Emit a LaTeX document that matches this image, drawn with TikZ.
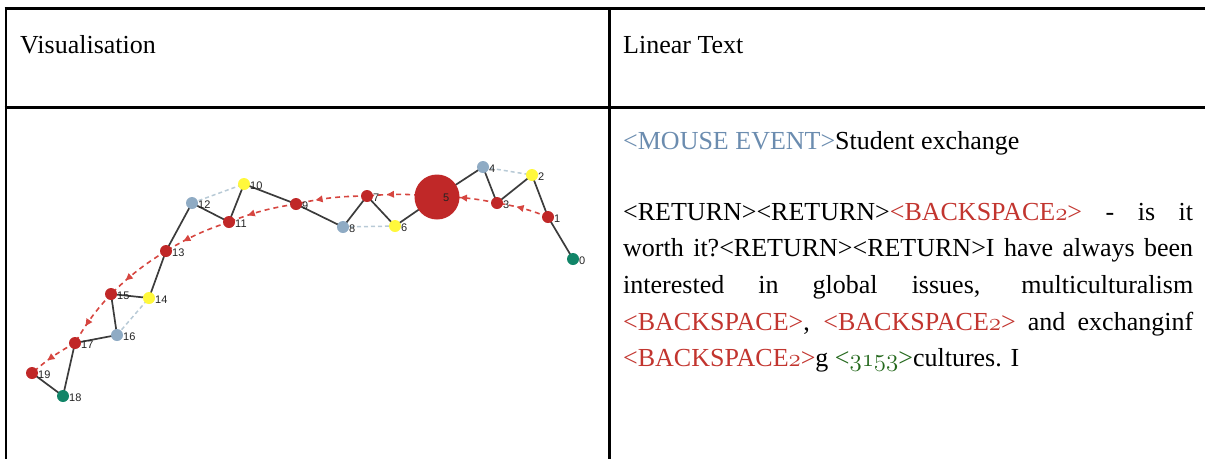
\documentclass[tikz,border=0pt]{standalone}
\usepackage{fontspec}
\setmainfont{Liberation Serif}
\newfontfamily\labelfont{Liberation Sans}
\usetikzlibrary{arrows.meta,decorations.markings}

\definecolor{nodered}{RGB}{192,40,40}
\definecolor{nodeblue}{RGB}{143,171,196}
\definecolor{nodeyellow}{RGB}{255,248,60}
\definecolor{nodeteal}{RGB}{17,133,104}
\definecolor{linkgray}{RGB}{60,60,60}
\definecolor{weakblue}{RGB}{184,202,214}
\definecolor{flowred}{RGB}{214,70,64}
\definecolor{labelgray}{RGB}{35,35,35}
\definecolor{mousecol}{RGB}{107,140,175}
\definecolor{keyred}{RGB}{194,53,47}
\definecolor{pausegreen}{RGB}{36,104,28}

\pgfdeclarelayer{edges}
\pgfsetlayers{edges,main}

% old-style digits taken from the math italic font
\newcommand\osdigits[1]{{\usefont{OML}{cmm}{m}{it}#1}}

\begin{document}
\begin{tikzpicture}[x=1pt,y=-1pt,
  rule/.style={line width=3pt,black},
  dot/.style={circle,inner sep=0pt,minimum size=12pt,draw=none},
  rdot/.style={dot,fill=nodered},
  bdot/.style={dot,fill=nodeblue},
  ydot/.style={dot,fill=nodeyellow},
  tdot/.style={dot,fill=nodeteal},
  nlabel/.style={font=\labelfont\fontsize{11}{12}\selectfont,text=labelgray,anchor=west,inner sep=0pt},
  link/.style={draw=linkgray,line width=1.7pt},
  weaklink/.style={draw=weakblue,line width=1.5pt,dash pattern=on 4pt off 3pt},
  flow/.style={color=flowred,line width=1.6pt,dash pattern=on 5pt off 4pt,
    postaction=decorate,
    decoration={markings,mark=at position #1 with {\arrow{Triangle[length=7pt,width=6.5pt]}}}},
  flow/.default=-20pt,
  txt/.style={anchor=base west,inner sep=0pt,font=\fontsize{26}{30}\selectfont},
]
\useasboundingbox (0,0) rectangle (1205,459);

% table rules
\draw[rule] (4.5,8.5) -- (1205,8.5);
\draw[rule] (4.5,107.5) -- (1205,107.5);
\draw[rule,line width=2.5pt] (6,7) -- (6,459);
\draw[rule] (609.5,7) -- (609.5,459);

% headers
\node[txt] (hvis) at (20,53.3) {Visualisation};
\node[txt] (hlin) at (623,53.3) {Linear Text};

% graph nodes
\node[tdot] (n0) at (573,259) {};
\node[rdot] (n1) at (548,217) {};
\node[ydot] (n2) at (532,175) {};
\node[rdot] (n3) at (497,203) {};
\node[bdot] (n4) at (483,167) {};
\node[dot,fill=nodered,minimum size=45pt] (n5) at (437,197) {};
\node[ydot] (n6) at (395,226) {};
\node[rdot] (n7) at (367,196) {};
\node[bdot] (n8) at (343,227) {};
\node[rdot] (n9) at (296,204) {};
\node[ydot] (n10) at (244,184) {};
\node[rdot] (n11) at (229,222) {};
\node[bdot] (n12) at (192,203) {};
\node[rdot] (n13) at (166,251) {};
\node[ydot] (n14) at (149,298) {};
\node[rdot] (n15) at (111,294) {};
\node[bdot] (n16) at (117,335) {};
\node[rdot] (n17) at (75,343) {};
\node[tdot] (n18) at (63,396) {};
\node[rdot] (n19) at (32,373) {};

% node labels
\foreach \i in {0,1,2,3,4,6,7,8,9,10,11,12,13,14,15,16,17,18,19}
  \node[nlabel] (l\i) at ([xshift=6pt,yshift=-2pt]n\i.center) {\i};
\node[nlabel] (l5) at ([xshift=6pt,yshift=-1pt]n5.center) {5};

\begin{pgfonlayer}{edges}
  % sequence links
  \foreach \a/\b in {0/1,1/2,2/3,3/4,4/5,5/6,6/7,7/8,8/9,9/10,10/11,11/12,12/13,13/14,14/15,15/16,16/17,17/18,18/19}
    \draw[link] (n\a.center) -- (n\b.center);
  % weak links
  \foreach \a/\b in {4/2,8/6,12/10,16/14}
    \draw[weaklink] (n\a.center) -- (n\b.center);
  % revision flow
  \draw[flow] (n1.center) to[bend right=6] (n3.center);
  \draw[flow=-23pt] (n3.center) to[bend right=6] (n5.center);
  \foreach \a/\b in {5/7,7/9,9/11,11/13,13/15,15/17,17/19}
    \draw[flow] (n\a.center) to[bend right=6] (n\b.center);
\end{pgfonlayer}

% linear text
\node[txt] (t1) at (623,149) {\textcolor{mousecol}{<MOUSE EVENT>}Student exchange};
\node[txt] (t2) at (623,220) {\makebox[570pt][s]{<RETURN><RETURN>\textcolor{keyred}{<BACKSPACE\osdigits{2}>} - is it}};
\node[txt] (t3) at (623,256.7) {\makebox[570pt][s]{worth it?<RETURN><RETURN>I have always been}};
\node[txt] (t4) at (623,293.4) {\makebox[570pt][s]{interested in global issues, multiculturalism}};
\node[txt] (t5) at (623,330.1) {\makebox[570pt][s]{\textcolor{keyred}{<BACKSPACE>}, \textcolor{keyred}{<BACKSPACE\osdigits{2}>} and exchanginf}};
\node[txt] (t6) at (623,366.8) {\textcolor{keyred}{<BACKSPACE\osdigits{2}>}g \textcolor{pausegreen}{<\osdigits{3153}>}cultures. I};
\end{tikzpicture}
\end{document}
